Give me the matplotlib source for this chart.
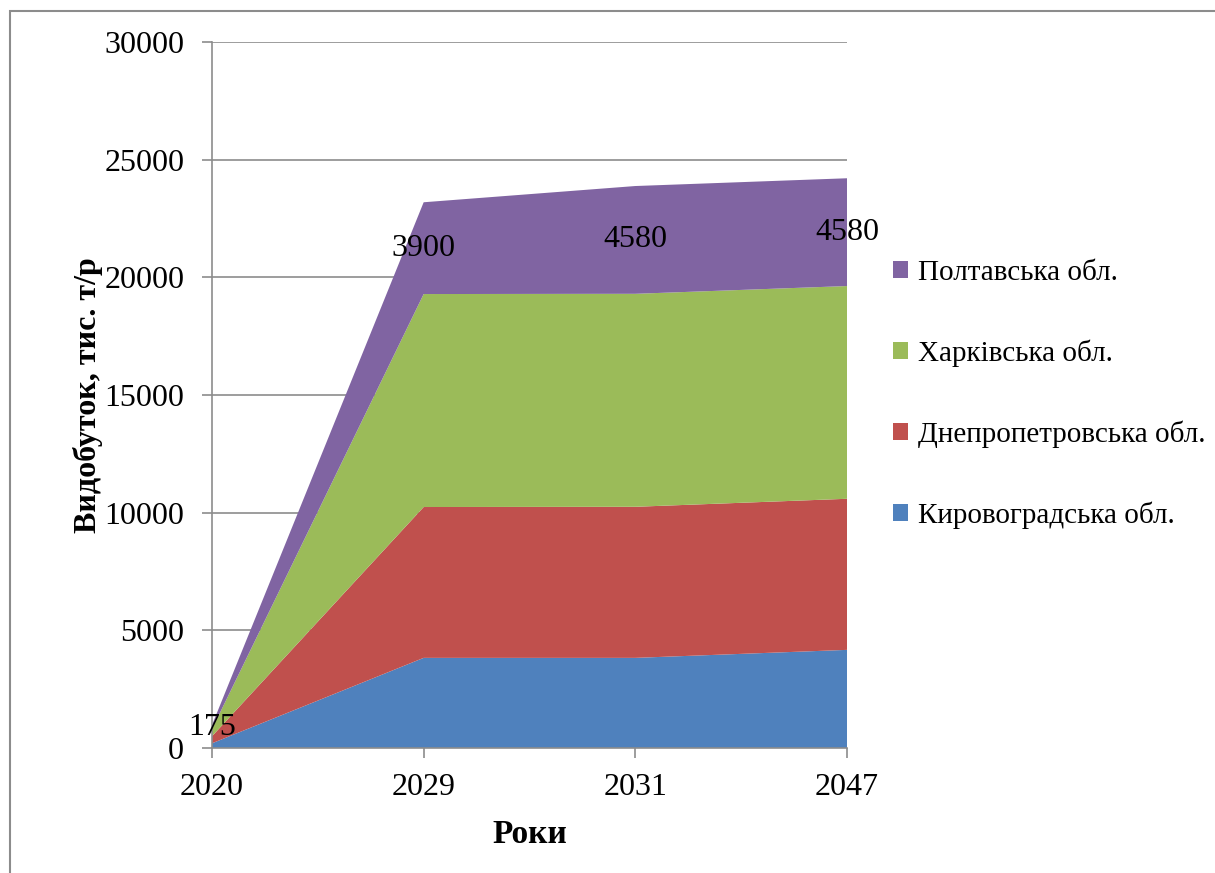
import matplotlib
matplotlib.use("Agg")
import matplotlib.pyplot as plt
from matplotlib.patches import Patch, Rectangle
import numpy as np

plt.rcParams['font.family'] = ['Liberation Serif', 'DejaVu Serif']

years = ['2020', '2029', '2031', '2047']
regions = ['Кировоградська обл.', 'Днепропетровська обл.', 'Харківська обл.', 'Полтавська обл.']
kirovohrad = [200, 3830, 3830, 4170]
dnipro = [300, 6410, 6420, 6420]
kharkiv = [300, 9050, 9050, 9040]
poltava = [175, 3900, 4580, 4580]
colors = ['#4F81BD', '#C0504D', '#9BBB59', '#8064A2']

y_ticks = [0, 5000, 10000, 15000, 20000, 25000, 30000]

fig = plt.figure(figsize=(12.15, 8.73), dpi=100)
ax = fig.add_axes([212 / 1215, 1 - 748 / 873, 635 / 1215, 706 / 873])

x = np.arange(len(years))
series = [kirovohrad, dnipro, kharkiv, poltava]
ax.stackplot(x, *series, colors=colors, linewidth=0)

ax.set_xlim(0, len(years) - 1)
ax.set_ylim(0, 30000)
ax.set_yticks(y_ticks)
ax.set_yticklabels([str(t) for t in y_ticks])
ax.set_xticks(x)
ax.set_xticklabels(years)

ax.grid(axis='y', color='#8c8c8c', linewidth=1.2)
ax.set_axisbelow(True)
for side in ['top', 'right']:
    ax.spines[side].set_visible(False)
for side in ['left', 'bottom']:
    ax.spines[side].set_color('#8c8c8c')
    ax.spines[side].set_linewidth(1.2)
ax.tick_params(axis='y', length=7, width=1.2, color='#8c8c8c', pad=13, labelsize=23)
ax.tick_params(axis='x', length=7, width=1.2, color='#8c8c8c', pad=11, labelsize=23)

ax.set_ylabel('Видобуток, тис. т/р', fontsize=23, fontweight='bold', labelpad=1)
ax.set_xlabel('Роки', fontsize=24, fontweight='bold', labelpad=12)

# value labels centred in the top (Poltava) layer
base = np.array(kirovohrad) + np.array(dnipro) + np.array(kharkiv)
for i, v in enumerate(poltava):
    ax.text(i, base[i] + v / 2, str(v), ha='center', va='center', fontsize=23,
            clip_on=False)

handles = [Patch(facecolor=c) for c in colors]
leg = fig.legend(handles[::-1], regions[::-1], loc='upper left',
                 bbox_to_anchor=(893 / 1215, 1 - 260 / 873), frameon=False,
                 fontsize=21, handlelength=0.5, handleheight=0.5,
                 handletextpad=0.35, labelspacing=1.83, borderpad=0, borderaxespad=0)

# outer chart frame
fig.patches.append(Rectangle((10 / 1215, -0.1), 1.2, (1 - 11 / 873) + 0.1,
                             transform=fig.transFigure, fill=False,
                             edgecolor='#8c8c8c', linewidth=1.5))

fig.savefig('out.png', dpi=100)
